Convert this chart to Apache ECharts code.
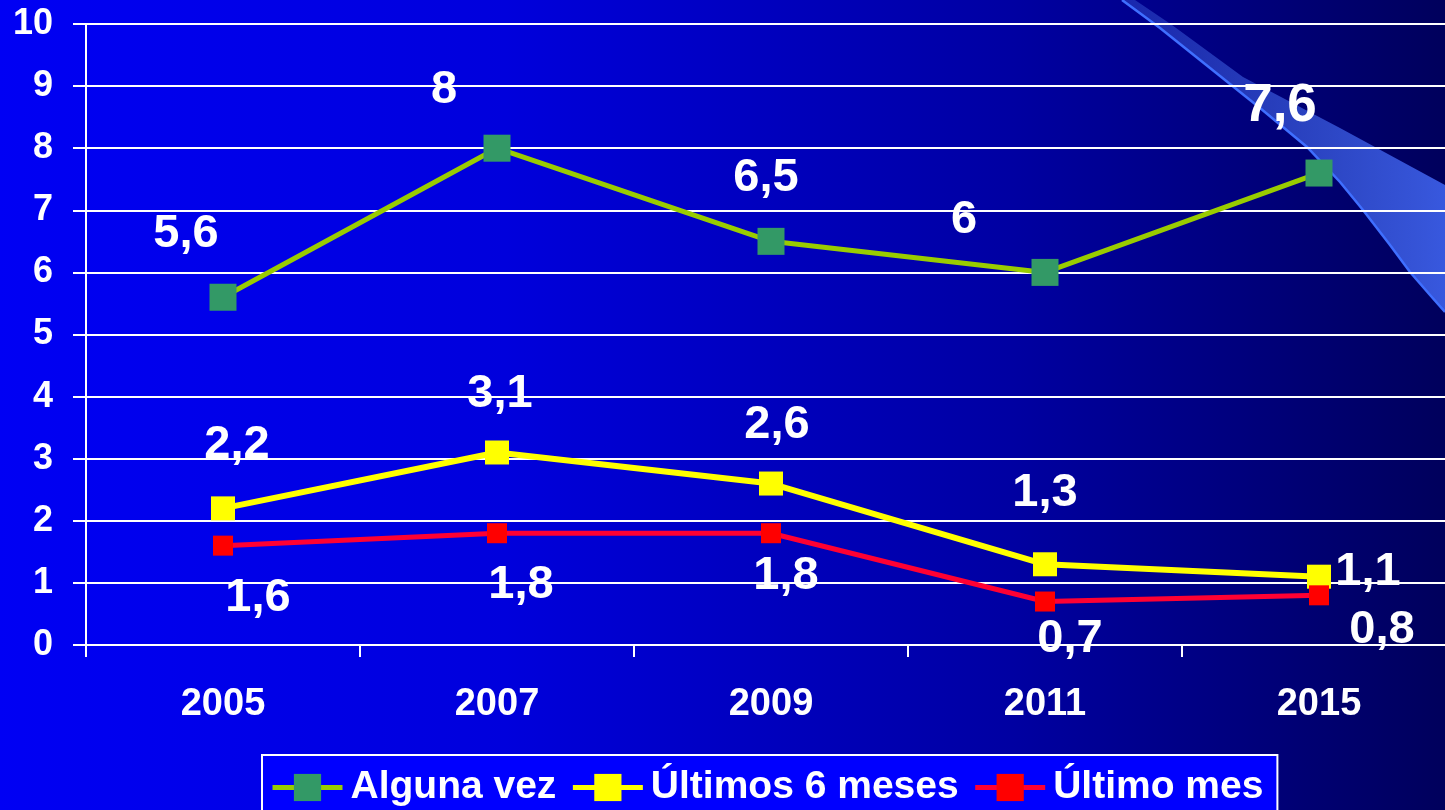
<!DOCTYPE html>
<html>
<head>
<meta charset="utf-8">
<title>Consumo</title>
<script src="https://cdn.jsdelivr.net/npm/echarts@6.0.0/dist/echarts.min.js"></script>
<style>
html, body { margin: 0; padding: 0; }
.echarts-box {
	width: 1445px;
	height: 810px;
	background: linear-gradient(to right, #0000F4 0%, #0000DC 35%, #0000A2 70%, #00005C 100%);
}
</style>
</head>
<body>
<div class="echarts-box" id="chart"></div>
<script>
// datos
var years = ['2005', '2007', '2009', '2011', '2015'];
var algunaVez = [5.6, 8, 6.5, 6, 7.6];
var ultimos6 = [2.2, 3.1, 2.6, 1.3, 1.1];
var ultimoMes = [1.6, 1.8, 1.8, 0.7, 0.8];
var yTicks = [0, 1, 2, 3, 4, 5, 6, 7, 8, 9, 10];

// desplazamiento de las etiquetas respecto al punto
var offAlguna = [[-37, -63], [-53, -58], [-5, -63], [-81, -52], [-39, -67]];
var offUlt6 = [[14, -63], [3, -58], [6, -58], [0, -71], [49, -5]];
var offMes = [[35, 52], [24, 52], [15, 43], [25, 38], [63, 35]];
var sizeAlguna = [47, 47, 47, 47, 53];

var fontFam = '"Liberation Sans", Arial, sans-serif';

function buildData(values, offsets, sizes) {
	return values.map(function (v, i) {
		return {
			value: v,
			label: {
				offset: offsets[i],
				fontSize: sizes ? sizes[i] : 47
			}
		};
	});
}

function makeSeries(name, values, offsets, lineColor, markColor, lineW, symSize, sizes) {
	return {
		name: name,
		type: 'line',
		data: buildData(values, offsets, sizes),
		symbol: 'rect',
		symbolSize: symSize,
		lineStyle: { color: lineColor, width: lineW },
		itemStyle: { color: markColor, borderWidth: 0 },
		label: {
			show: true,
			position: 'inside',
			align: 'center',
			verticalAlign: 'middle',
			color: '#fff',
			fontWeight: 'bold',
			fontFamily: fontFam,
			formatter: function (p) {
				return String(p.value).replace('.', ',');
			}
		},
		emphasis: { disabled: true },
		animation: false
	};
}

var myChart = echarts.init(document.getElementById('chart'));

var swooshEdge = [[1122, 0], [1160, 28], [1210, 68], [1260, 108], [1307, 147], [1340, 182],
	[1363, 210], [1390, 245], [1410, 272], [1430, 295], [1445, 312]];

var option = {
	backgroundColor: 'transparent',
	animation: false,
	textStyle: { fontFamily: fontFam },
	grid: {
		left: 86,
		width: 1370,
		top: 24,
		bottom: 165,
		outerBoundsMode: 'none'
	},
	// franja decorativa arriba a la derecha
	graphic: [
		{
			type: 'polygon',
			z: -10,
			silent: true,
			shape: {
				points: swooshEdge.concat([[1445, 185], [1340, 128], [1243, 77], [1172, 25], [1135, 0]])
			},
			style: {
				fill: {
					type: 'linear', x: 0, y: 0, x2: 1, y2: 0,
					colorStops: [
						{ offset: 0, color: 'rgba(70,110,230,0.35)' },
						{ offset: 1, color: 'rgba(70,110,255,0.8)' }
					]
				}
			}
		},
		{
			type: 'polyline',
			z: -9,
			silent: true,
			shape: { points: swooshEdge },
			style: { stroke: '#3F6FFF', lineWidth: 2.5, fill: null }
		}
	],
	legend: {
		left: 262,
		top: 755,
		padding: [13, 14, 20, 8],
		itemGap: 14,
		itemWidth: 70,
		itemHeight: 34,
		backgroundColor: '#0000FF',
		borderColor: '#fff',
		borderWidth: 2,
		borderRadius: 0,
		lineStyle: { width: 5 },
		textStyle: {
			color: '#fff',
			fontSize: 39,
			fontWeight: 'bold',
			fontFamily: fontFam,
			padding: [0, 0, 0, 3]
		},
		data: ['Alguna vez', 'Últimos 6 meses', 'Último mes']
	},
	xAxis: {
		type: 'category',
		data: years,
		boundaryGap: true,
		axisLine: { lineStyle: { color: '#fff', width: 2 } },
		axisTick: { show: true, length: 12, lineStyle: { color: '#fff', width: 2 } },
		axisLabel: {
			color: '#fff',
			fontSize: 38,
			fontWeight: 'bold',
			fontFamily: fontFam,
			margin: 41
		}
	},
	yAxis: {
		type: 'value',
		min: yTicks[0],
		max: yTicks[yTicks.length - 1],
		interval: 1,
		axisLine: { show: true, lineStyle: { color: '#fff', width: 2 } },
		axisTick: { show: true, length: 13, lineStyle: { color: '#fff', width: 2 } },
		axisLabel: {
			color: '#fff',
			fontSize: 36,
			fontWeight: 'bold',
			fontFamily: fontFam,
			margin: 33,
			padding: [6, 0, 0, 0]
		},
		splitLine: { lineStyle: { color: '#fff', width: 2 } }
	},
	series: [
		makeSeries('Alguna vez', algunaVez, offAlguna, '#99CC00', '#339966', 5, 27, sizeAlguna),
		makeSeries('Últimos 6 meses', ultimos6, offUlt6, '#FFFF00', '#FFFF00', 6, 24),
		makeSeries('Último mes', ultimoMes, offMes, '#FF0033', '#FF0000', 5, 20)
	]
};

myChart.setOption(option, true);
window.addEventListener('resize', function () {
	myChart.resize();
});
</script>
</body>
</html>
